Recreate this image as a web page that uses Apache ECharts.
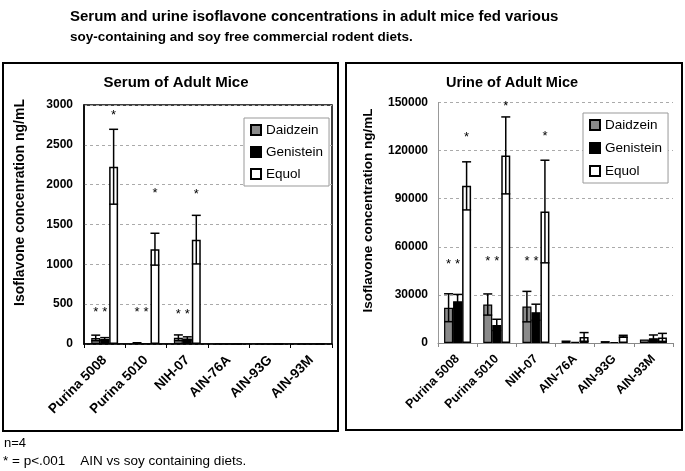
<!DOCTYPE html>
<html>
<head>
<meta charset="utf-8">
<script src="https://cdn.jsdelivr.net/npm/echarts@6/dist/echarts.min.js"></script>
<style>html,body{margin:0;padding:0;background:#fff}#c{width:685px;height:471px}</style>
</head>
<body>
<div id="c"></div>
<script>
// ---------- data ----------
const categories = ['Purina 5008', 'Purina 5010', 'NIH-07', 'AIN-76A', 'AIN-93G', 'AIN-93M'];
const seriesNames = ['Daidzein', 'Genistein', 'Equol'];

// Serum (ng/mL)
const serumDaidzein    = [76, 25, 78, 0, 0, 0];
const serumDaidzeinErr = [35, 0, 36, 0, 0, 0];
const serumGenistein    = [63, 6, 70, 0, 0, 0];
const serumGenisteinErr = [17, 0, 20, 0, 0, 0];
const serumEquol    = [2225, 1190, 1310, 0, 0, 0];
const serumEquolErr = [470, 200, 305, 0, 0, 0];
const serumStarDaidzein  = [440, 440, 414, null, null, null];
const serumStarGenistein = [440, 440, 414, null, null, null];
const serumStarEquol     = [2912, 1933, 1920, null, null, null];
const serumTicks = [0, 500, 1000, 1500, 2000, 2500, 3000];

// Urine (ng/mL)
const urineDaidzein    = [22000, 24000, 22700, 1500, 1200, 2200];
const urineDaidzeinErr = [8700, 6600, 9500, 0, 0, 0];
const urineGenistein    = [26000, 11300, 19200, 700, 600, 3000];
const urineGenisteinErr = [4300, 3500, 5000, 0, 0, 2000];
const urineEquol    = [98000, 117000, 82000, 3800, 4200, 3500];
const urineEquolErr = [15000, 24000, 32000, 2700, 600, 2500];
const urineStarDaidzein  = [51000, 52700, 53000, null, null, null];
const urineStarGenistein = [51000, 52700, 53000, null, null, null];
const urineStarEquol     = [130000, 149400, 130800, null, null, null];
const urineTicks = [0, 30000, 60000, 90000, 120000, 150000];

// ---------- helpers ----------
const FONT = '"Liberation Sans", Arial, Helvetica, sans-serif';

function errData(vals, errs) {
  const out = [];
  vals.forEach((v, s) => v.forEach((val, i) => { if (errs[s][i] > 0) out.push([i, s, val, errs[s][i]]); }));
  return out;
}
function starData(stars) {
  const out = [];
  stars.forEach((arr, s) => arr.forEach((v, i) => { if (v != null) out.push([i, s, v]); }));
  return out;
}
function errRender(gap) {
  return function (params, api) {
    const cat = api.value(0), s = api.value(1), v = api.value(2), e = api.value(3);
    const band = api.size([1, 0])[0];
    const bw = band * (1 - gap) / 3;
    const top = api.coord([cat, v + e]);
    const bot = api.coord([cat, Math.max(v - e, 0)]);
    const x = top[0] + (s - 1) * bw;
    const cw = bw * 0.5;
    const st = { stroke: '#000', lineWidth: 1.5 };
    return {
      type: 'group',
      children: [
        { type: 'line', shape: { x1: x, y1: top[1], x2: x, y2: bot[1] }, style: st },
        { type: 'line', shape: { x1: x - cw, y1: top[1], x2: x + cw, y2: top[1] }, style: st },
        { type: 'line', shape: { x1: x - cw, y1: bot[1], x2: x + cw, y2: bot[1] }, style: st }
      ]
    };
  };
}
function starRender(gap) {
  return function (params, api) {
    const cat = api.value(0), s = api.value(1), v = api.value(2);
    const band = api.size([1, 0])[0];
    const bw = band * (1 - gap) / 3;
    const p = api.coord([cat, v]);
    return {
      type: 'text',
      style: {
        text: '*', x: p[0] + (s - 1) * bw, y: p[1] + 3,
        textAlign: 'center', textVerticalAlign: 'middle', verticalAlign: 'middle',
        fontSize: 13, fontFamily: FONT, fill: '#000'
      }
    };
  };
}

const barStyles = [
  { color: '#8a8a8a', borderColor: '#000', borderWidth: 1.2 },
  { color: '#000', borderColor: '#000', borderWidth: 1.2 },
  { color: '#fff', borderColor: '#000', borderWidth: 1.5 }
];
const GAP_L = 0.35, GAP_R = 0.31;

function bars(vals, axisIdx, gap) {
  return vals.map((d, s) => ({
    type: 'bar', name: seriesNames[s], xAxisIndex: axisIdx, yAxisIndex: axisIdx,
    data: d, barGap: '0%', barCategoryGap: (gap * 100) + '%',
    itemStyle: barStyles[s], z: 2
  }));
}

const chart = echarts.init(document.getElementById('c'), null, { renderer: 'canvas' });

const legendBase = {
  orient: 'vertical', data: seriesNames, icon: 'rect', itemWidth: 10, itemHeight: 10,
  borderColor: '#999', borderWidth: 1, backgroundColor: '#fff', selectedMode: false,
  textStyle: { fontSize: 13.5, fontFamily: FONT, color: '#000' }, padding: [5, 6, 5, 6]
};

function xAxisCfg(idx, axisColor, fs, margin) {
  return {
    type: 'category', gridIndex: idx, data: categories,
    axisLine: { show: true, lineStyle: { color: axisColor, width: idx === 0 ? 1.5 : 1 } },
    axisTick: { show: true, length: 4, lineStyle: { color: axisColor } },
    axisLabel: { interval: 0, rotate: 45, margin: margin, fontSize: fs, fontWeight: 'bold', fontFamily: FONT, color: '#000' },
    splitLine: { show: false }
  };
}
function yAxisCfg(idx, ticks, axisColor) {
  return {
    type: 'value', gridIndex: idx, min: ticks[0], max: ticks[ticks.length - 1],
    interval: ticks[1] - ticks[0],
    axisLine: { show: true, lineStyle: { color: axisColor, width: idx === 0 ? 1.5 : 1 } },
    axisTick: { show: false },
    axisLabel: { margin: idx === 0 ? 11 : 10, fontSize: 12, fontWeight: 'bold', fontFamily: FONT, color: '#000',
      formatter: function (v) { return String(v); } },
    splitLine: { show: true, lineStyle: { color: '#aaa', type: [3, 3], width: 1 } }
  };
}

const option = {
  animation: false,
  grid: [
    { left: 84, top: 105, width: 248, height: 239, show: true, borderColor: '#000', borderWidth: 1.5, backgroundColor: 'transparent' },
    { left: 438, top: 102.5, width: 235, height: 240.5 }
  ],
  legend: [
    Object.assign({}, legendBase, { left: 244, top: 118, itemGap: 8 }),
    Object.assign({}, legendBase, { left: 583, top: 113, itemGap: 9 })
  ],
  xAxis: [xAxisCfg(0, '#000', 13.5, 14), xAxisCfg(1, '#888', 12.5, 14)],
  yAxis: [yAxisCfg(0, serumTicks, '#000'), yAxisCfg(1, urineTicks, '#999')],
  series: [
    ...bars([serumDaidzein, serumGenistein, serumEquol], 0, GAP_L),
    ...bars([urineDaidzein, urineGenistein, urineEquol], 1, GAP_R),
    {
      type: 'custom', name: 'serumErr', xAxisIndex: 0, yAxisIndex: 0, z: 5, clip: false,
      renderItem: errRender(GAP_L), encode: { x: 0, y: 2 },
      data: errData([serumDaidzein, serumGenistein, serumEquol], [serumDaidzeinErr, serumGenisteinErr, serumEquolErr])
    },
    {
      type: 'custom', name: 'urineErr', xAxisIndex: 1, yAxisIndex: 1, z: 5, clip: false,
      renderItem: errRender(GAP_R), encode: { x: 0, y: 2 },
      data: errData([urineDaidzein, urineGenistein, urineEquol], [urineDaidzeinErr, urineGenisteinErr, urineEquolErr])
    },
    {
      type: 'custom', name: 'serumStars', xAxisIndex: 0, yAxisIndex: 0, z: 5, clip: false,
      renderItem: starRender(GAP_L), encode: { x: 0, y: 2 },
      data: starData([serumStarDaidzein, serumStarGenistein, serumStarEquol])
    },
    {
      type: 'custom', name: 'urineStars', xAxisIndex: 1, yAxisIndex: 1, z: 5, clip: false,
      renderItem: starRender(GAP_R), encode: { x: 0, y: 2 },
      data: starData([urineStarDaidzein, urineStarGenistein, urineStarEquol])
    }
  ],
  graphic: [
    { type: 'rect', shape: { x: 3, y: 63, width: 335, height: 368 }, style: { fill: 'none', stroke: '#000', lineWidth: 2 }, z: 10 },
    { type: 'rect', shape: { x: 346, y: 63, width: 336, height: 367 }, style: { fill: 'none', stroke: '#000', lineWidth: 2 }, z: 10 },
    { type: 'text', x: 70, y: 17, style: { text: 'Serum and urine isoflavone concentrations in adult mice fed various', fontSize: 15, fontWeight: 'bold', fontFamily: FONT, fill: '#000', textAlign: 'left', textVerticalAlign: 'middle', verticalAlign: 'middle' } },
    { type: 'text', x: 70, y: 37, style: { text: 'soy-containing and soy free commercial rodent diets.', fontSize: 13.5, fontWeight: 'bold', fontFamily: FONT, fill: '#000', textAlign: 'left', textVerticalAlign: 'middle', verticalAlign: 'middle' } },
    { type: 'text', x: 176, y: 83, style: { text: 'Serum of Adult Mice', fontSize: 15, fontWeight: 'bold', fontFamily: FONT, fill: '#000', textAlign: 'center', textVerticalAlign: 'middle', verticalAlign: 'middle' } },
    { type: 'text', x: 512, y: 83, style: { text: 'Urine of Adult Mice', fontSize: 14.5, fontWeight: 'bold', fontFamily: FONT, fill: '#000', textAlign: 'center', textVerticalAlign: 'middle', verticalAlign: 'middle' } },
    { type: 'text', x: 20, y: 202.5, rotation: Math.PI / 2, style: { text: 'Isoflavone concenration ng/mL', fontSize: 14, fontWeight: 'bold', fontFamily: FONT, fill: '#000', textAlign: 'center', textVerticalAlign: 'middle', verticalAlign: 'middle' } },
    { type: 'text', x: 368, y: 210.5, rotation: Math.PI / 2, style: { text: 'Isoflavone concentration ng/mL', fontSize: 13.5, fontWeight: 'bold', fontFamily: FONT, fill: '#000', textAlign: 'center', textVerticalAlign: 'middle', verticalAlign: 'middle' } },
    { type: 'text', x: 4, y: 443, style: { text: 'n=4', fontSize: 13, fontFamily: FONT, fill: '#000', textAlign: 'left', textVerticalAlign: 'middle', verticalAlign: 'middle' } },
    { type: 'text', x: 3, y: 461, style: { text: '* = p<.001    AIN vs soy containing diets.', fontSize: 13.5, fontFamily: FONT, fill: '#000', textAlign: 'left', textVerticalAlign: 'middle', verticalAlign: 'middle' } }
  ]
};
chart.setOption(option);
</script>
</body>
</html>
